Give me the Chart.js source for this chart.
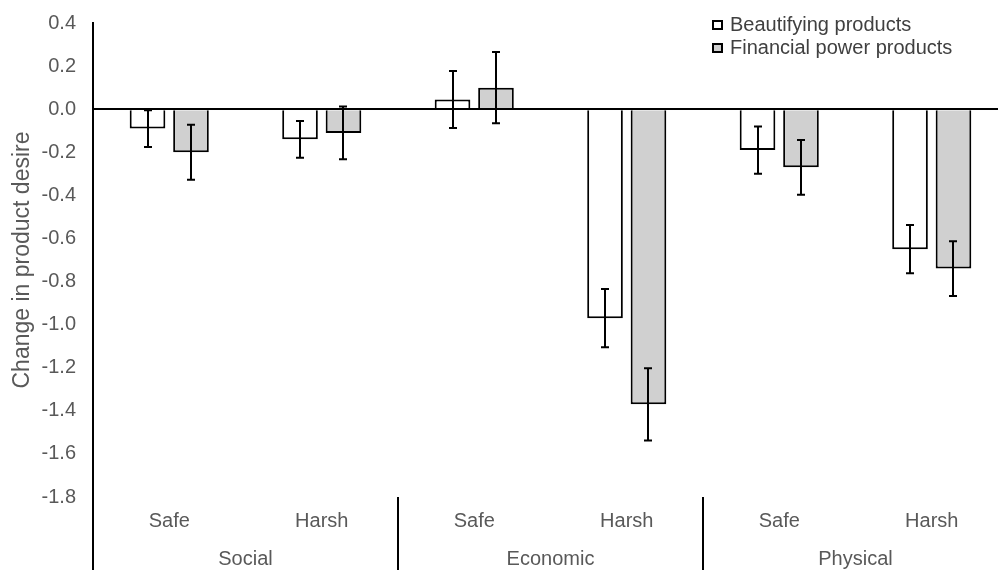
<!DOCTYPE html>
<html>
<head>
<meta charset="utf-8">
<script src="https://cdn.jsdelivr.net/npm/chart.js@4/dist/chart.umd.min.js"></script>
<style>
  html, body { margin: 0; padding: 0; background: #fff; overflow: hidden; }
  #wrap { position: relative; width: 1010px; height: 570px; }
  #legend { position: absolute; left: 712px; top: 13px; font-family: "Liberation Sans", Arial, sans-serif;
            font-size: 20px; color: #404040; line-height: 23px; }
  #legend .item { display: flex; align-items: center; white-space: nowrap; }
  #legend .box { width: 7px; height: 6px; border: 2px solid #000; margin-right: 7px; }
</style>
</head>
<body>
<div id="wrap">
  <canvas id="chart" width="1010" height="570"></canvas>
  <div id="legend"></div>
</div>
<script>
// Conditions (bottom axis, inner level) and their environment groups (outer level)
const categories = ['Safe', 'Harsh', 'Safe', 'Harsh', 'Safe', 'Harsh'];
const groups = ['Social', 'Economic', 'Physical'];

// Mean change in product desire and standard errors
const beautifying = [-0.09, -0.14, 0.045, -0.97, -0.19, -0.65];
const beautifyingErr = [0.085, 0.085, 0.132, 0.135, 0.11, 0.112];
const financial = [-0.20, -0.11, 0.10, -1.37, -0.27, -0.74];
const financialErr = [0.128, 0.122, 0.165, 0.168, 0.127, 0.127];

// Value-axis ticks
const yTicks = [0.4, 0.2, 0.0, -0.2, -0.4, -0.6, -0.8, -1.0, -1.2, -1.4, -1.6, -1.8];

const seriesNames = ['Beautifying products', 'Financial power products'];
const seriesFill = ['#ffffff', '#d0d0d0'];
const seriesErr = [beautifyingErr, financialErr];

const textGrey = '#595959';
const family = '"Liberation Sans", Arial, sans-serif';
const font = { family, size: 20 };

// Error bars with caps, drawn from each bar's value and its error;
// the zero line is redrawn on top so the bar edges join it
const errorBars = {
  id: 'errorBars',
  afterDatasetsDraw(chart) {
    const { ctx, chartArea } = chart;
    const y = chart.scales.y;
    ctx.save();
    ctx.strokeStyle = '#000';
    ctx.lineWidth = 2;
    const y0 = Math.round(y.getPixelForValue(0));
    ctx.beginPath();
    ctx.moveTo(chartArea.left, y0); ctx.lineTo(chartArea.right, y0);
    ctx.stroke();
    chart.data.datasets.forEach((ds, di) => {
      const meta = chart.getDatasetMeta(di);
      meta.data.forEach((bar, i) => {
        const v = ds.data[i], e = seriesErr[di][i];
        const top = y.getPixelForValue(v + e);
        const bot = y.getPixelForValue(v - e);
        const x = Math.round(bar.x);
        ctx.beginPath();
        ctx.moveTo(x, top); ctx.lineTo(x, bot);
        ctx.moveTo(x - 4, top); ctx.lineTo(x + 4, top);
        ctx.moveTo(x - 4, bot); ctx.lineTo(x + 4, bot);
        ctx.stroke();
      });
    });
    ctx.restore();
  }
};

// Axis line extension and separators between the outer groups
const groupDividers = {
  id: 'groupDividers',
  afterDraw(chart) {
    const { ctx, chartArea } = chart;
    const x = chart.scales.x;
    const xs = [chartArea.left];
    for (let g = 1; g < groups.length; g++) {
      const i = g * 2;
      xs.push((x.getPixelForValue(i - 1) + x.getPixelForValue(i)) / 2);
    }
    ctx.save();
    ctx.strokeStyle = '#000';
    ctx.lineWidth = 2;
    xs.forEach(px => {
      ctx.beginPath();
      ctx.moveTo(Math.round(px), chartArea.bottom);
      ctx.lineTo(Math.round(px), chart.height);
      ctx.stroke();
    });
    ctx.restore();
  }
};

const chart = new Chart(document.getElementById('chart'), {
  type: 'bar',
  data: {
    labels: categories,
    datasets: [
      { label: seriesNames[0], data: beautifying, backgroundColor: seriesFill[0],
        borderColor: '#000', borderWidth: 2, borderSkipped: 'start',
        categoryPercentage: 0.57, barPercentage: 0.82 },
      { label: seriesNames[1], data: financial, backgroundColor: seriesFill[1],
        borderColor: '#000', borderWidth: 2, borderSkipped: 'start',
        categoryPercentage: 0.57, barPercentage: 0.82 }
    ]
  },
  options: {
    responsive: false,
    animation: false,
    layout: { padding: { top: 23, right: 2, left: 0, bottom: 0 } },
    plugins: { legend: { display: false }, tooltip: { enabled: false } },
    scales: {
      y: {
        min: -1.8, max: 0.4,
        afterBuildTicks(scale) { scale.ticks = yTicks.map(v => ({ value: v })); },
        afterFit(scale) {
          scale.width = 93;
          scale.paddingTop = 0;
          scale.paddingBottom = 0;
        },
        ticks: {
          color: textGrey, font, padding: 17,
          callback: v => (Math.abs(v) < 1e-9 ? 0 : v).toFixed(1)
        },
        grid: {
          drawTicks: false,
          color: c => (c.tick && Math.abs(c.tick.value) < 1e-9 ? '#000' : 'rgba(0,0,0,0)'),
          lineWidth: 2
        },
        border: { display: true, color: '#000', width: 2 },
        title: { display: true, text: 'Change in product desire', color: textGrey,
                 font: { family, size: 23 }, padding: { top: 9, bottom: 0 } }
      },
      x: {
        afterFit(scale) { scale.height = 40; },
        ticks: { color: textGrey, font, padding: 12, maxRotation: 0, autoSkip: false },
        grid: { display: false, drawTicks: false },
        border: { display: false }
      },
      x2: {
        type: 'category',
        labels: groups,
        position: 'bottom',
        offset: true,
        afterFit(scale) { scale.height = 33; },
        ticks: { color: textGrey, font, padding: 10, maxRotation: 0, autoSkip: false },
        grid: { display: false, drawTicks: false },
        border: { display: false }
      }
    }
  },
  plugins: [errorBars, groupDividers]
});

// Legend built from the datasets
const legend = document.getElementById('legend');
chart.data.datasets.forEach(ds => {
  const item = document.createElement('div');
  item.className = 'item';
  const box = document.createElement('span');
  box.className = 'box';
  box.style.background = ds.backgroundColor;
  const label = document.createElement('span');
  label.textContent = ds.label;
  item.appendChild(box);
  item.appendChild(label);
  legend.appendChild(item);
});
</script>
</body>
</html>
